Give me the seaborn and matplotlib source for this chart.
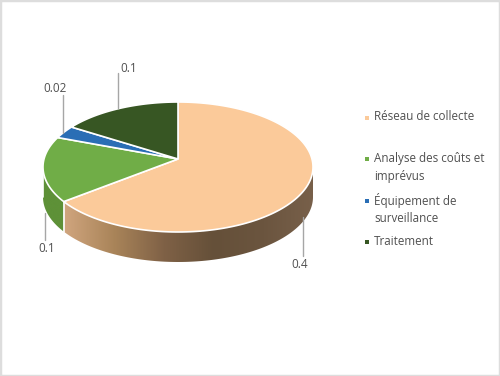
import numpy as np
import seaborn as sns
import matplotlib.pyplot as plt
from matplotlib.lines import Line2D
from matplotlib.patches import Polygon, Rectangle

categories = ['Réseau de collecte', 'Analyse des coûts et\nimprévus', 'Équipement de\nsurveillance', 'Traitement']
values = [0.4, 0.1, 0.02, 0.1]
value_labels = ['0.4', '0.1', '0.02', '0.1']
colors = ['#FBCA9A', '#70AD47', '#2A6EB5', '#375623']

sns.set_theme(style='white')
plt.rcParams['font.family'] = ['Open Sans', 'DejaVu Sans']

W, H = 500, 376
# ellipse geometry in pixels, apex sits a bit above the ellipse centre (fake perspective)
cx, cy, rx, ry, depth, apex_up = 178, 167, 135, 65, 30, 8

fig = plt.figure(figsize=(W / 100, H / 100), dpi=100)
ax = fig.add_axes([0, 0, 1, 1])

wedges, _ = ax.pie(values, colors=colors, startangle=90, counterclock=False)

d = depth / ry
apex = apex_up / ry


def rim_angle(theta):
    # ray from the apex in direction theta, where does it hit the rim
    dx, dy = np.cos(np.radians(theta)), np.sin(np.radians(theta))
    b = apex * dy
    t = -b + np.sqrt(b * b - apex * apex + 1)
    return np.degrees(np.arctan2(apex + t * dy, t * dx))


wall_cmaps = [
    sns.blend_palette(['#D0A57E', '#A98459', '#7F6146', '#655039', '#6B553F', '#78604A'], as_cmap=True),
    sns.blend_palette(['#5E9138', '#5E9138'], as_cmap=True),
    sns.blend_palette(['#235C98', '#235C98'], as_cmap=True),
    sns.blend_palette(['#2E481D', '#2E481D'], as_cmap=True),
]

for w, col, cmap in zip(wedges, colors, wall_cmaps):
    # pie gives theta1 < theta2 going round, first slice runs clockwise from 90
    a = rim_angle(w.theta2)
    b = rim_angle(w.theta1)
    if b > a:
        b -= 360
    t = np.radians(np.linspace(a, b, 160))
    xs, ys = np.cos(t), np.sin(t)
    w.set_visible(False)
    ax.add_patch(Polygon(np.r_[[[0, apex]], np.c_[xs, ys]], closed=True, facecolor=col,
                         edgecolor='white', lw=1.2, zorder=3))

    # side wall, only what faces the viewer (angles -180..0)
    for shift in (0, -360):
        lo, hi = max(b - shift, -180), min(a - shift, 0)
        if lo >= hi:
            continue
        t = np.radians(np.linspace(hi, lo, 120))
        xw, yw = np.cos(t), np.sin(t)
        patch = Polygon(np.r_[np.c_[xw, yw], np.c_[xw[::-1], yw[::-1] - d]], closed=True,
                        facecolor='none', edgecolor='none')
        ax.add_patch(patch)
        grad = np.linspace(0, 1, 256).reshape(1, -1)
        im = ax.imshow(grad, cmap=cmap, aspect='auto', zorder=1,
                       extent=[xw.min(), xw.max(), -1 - d, 1])
        im.set_clip_path(patch)
        ax.plot([xw[-1], xw[-1]], [yw[-1], yw[-1] - d], color='white', lw=1.2, zorder=2)

ax.set_aspect('auto')
ax.set_xlim((0 - cx) / rx, (W - cx) / rx)
ax.set_ylim((cy - H) / ry, cy / ry)
ax.axis('off')


def fx(x):
    return x / W


def fy(y):
    return 1 - y / H


# value labels with leader lines
label_pos = [(300, 265), (47, 249), (55, 88), (129, 68)]
leaders = [((303, 217), (303, 256)), ((45, 213), (45, 240)), ((63, 95), (63, 133)), ((118, 73), (118, 108))]
for txt, (x, y), (p0, p1) in zip(value_labels, label_pos, leaders):
    fig.text(fx(x), fy(y), txt, fontsize=8.5, color='#505050', ha='center', va='center')
    fig.add_artist(Line2D([fx(p0[0]), fx(p1[0])], [fy(p0[1]), fy(p1[1])],
                          color='#A6A6A6', lw=1, transform=fig.transFigure))

# legend
marker_y = [118, 159, 201, 242]
text_y = [117, 167.5, 209, 242]
for name, col, my, ty in zip(categories, colors, marker_y, text_y):
    fig.add_artist(Rectangle((fx(365), fy(my + 2)), 4 / W, 4 / H, facecolor=col,
                             edgecolor='none', transform=fig.transFigure))
    fig.text(fx(374), fy(ty), name, fontsize=8.4, color='#505050', ha='left', va='center',
             linespacing=1.5)

# thin grey frame around the picture
fig.add_artist(Rectangle((0, 0), 1, 1, facecolor='none', edgecolor='#DDDDDD', lw=2.5,
                         transform=fig.transFigure))

fig.savefig('out.png', dpi=100)
